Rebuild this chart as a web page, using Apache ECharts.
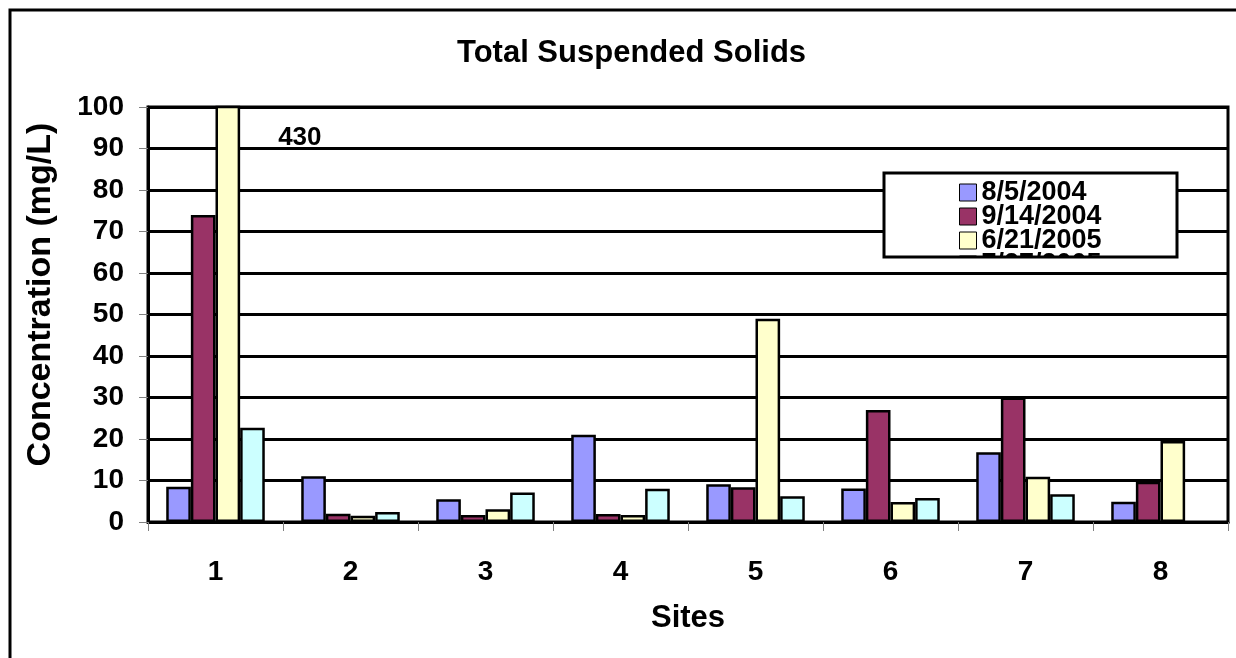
<!DOCTYPE html>
<html>
<head>
<meta charset="utf-8">
<script src="https://cdn.jsdelivr.net/npm/echarts@6/dist/echarts.min.js"></script>
<style>
  html, body { margin: 0; padding: 0; background: #fff; }
  #tss { width: 1236px; height: 658px; }
</style>
</head>
<body>
<div id="tss"></div>
<script>
// sites and sampling dates
var sites = ['1', '2', '3', '4', '5', '6', '7', '8'];
var dates = ['8/5/2004', '9/14/2004', '6/21/2005', '7/27/2005'];

// TSS concentration (mg/L) per site, one array per sampling date
var tss_aug2004 = [8.5, 11, 5.5, 21, 9.1, 8.1, 16.8, 4.9];
var tss_sep2004 = [74, 2, 1.7, 1.9, 8.4, 27, 30, 9.7];
var tss_jun2005 = [430, 1.5, 3.1, 1.7, 49, 4.8, 10.9, 19.5];
var tss_jul2005 = [22.7, 2.4, 7.1, 8, 6.2, 5.8, 6.7, null];

var yTicks = [0, 10, 20, 30, 40, 50, 60, 70, 80, 90, 100];

function draw_tss() {
    var dom = document.getElementById('tss');
    var myChart = echarts.init(dom, null, {
      renderer: 'canvas',
      useDirtyRect: false
    });

    var font = 'Arial, "Liberation Sans", sans-serif';
    var colors = ['#9999FF', '#993366', '#FFFFCC', '#CCFFFF'];
    var yMax = yTicks[yTicks.length - 1];

    // values above the axis max get their number written next to the bar
    function withOffscale(arr) {
      return arr.map(function (v) {
        if (v != null && v > yMax) {
          return {
            value: v,
            label: {
              show: true,
              position: 'insideTop',
              offset: [72, 14],
              formatter: '{c}',
              color: '#000',
              fontWeight: 'bold',
              fontSize: 26,
              fontFamily: font
            }
          };
        }
        return v;
      });
    }

    var values = [tss_aug2004, tss_sep2004, tss_jun2005, tss_jul2005];
    var series = values.map(function (arr, i) {
      return {
        name: dates[i],
        type: 'bar',
        data: withOffscale(arr),
        barGap: '0%',
        barCategoryGap: '27%',
        itemStyle: {
          color: colors[i],
          borderColor: '#000',
          borderWidth: 2.5
        }
      };
    });

    var option = {
      animation: false,
      backgroundColor: '#fff',
      title: {
        text: 'Total Suspended Solids',
        left: 452,
        top: 33,
        textStyle: {
          fontFamily: font,
          fontWeight: 'bold',
          fontSize: 31,
          color: '#000'
        }
      },
      legend: {
        type: 'scroll',
        orient: 'vertical',
        left: 959,
        top: 179,
        height: 78,
        padding: 0,
        itemGap: -3,
        itemWidth: 17,
        itemHeight: 17,
        icon: 'rect',
        itemStyle: { borderWidth: 1, borderColor: '#000' },
        textStyle: {
          fontFamily: font,
          fontWeight: 'bold',
          fontSize: 27,
          lineHeight: 24,
          color: '#000'
        },
        pageButtonGap: 0,
        pageButtonItemGap: 0,
        pageIconSize: 1,
        pageIconColor: 'rgba(0,0,0,0)',
        pageIconInactiveColor: 'rgba(0,0,0,0)',
        pageFormatter: '',
        pageTextStyle: { fontSize: 1, color: 'rgba(0,0,0,0)' },
        data: dates
      },
      graphic: [
        {
          type: 'rect',
          z: -1,
          shape: { x: 10, y: 10, width: 1300, height: 700 },
          style: { fill: 'none', stroke: '#000', lineWidth: 3 }
        },
        {
          type: 'rect',
          z: 1,
          shape: { x: 884, y: 173, width: 293, height: 84 },
          style: { fill: '#fff', stroke: 'none' }
        },
        {
          type: 'rect',
          z: 100,
          shape: { x: 884, y: 173, width: 293, height: 84 },
          style: { fill: 'none', stroke: '#000', lineWidth: 3 }
        }
      ],
      grid: {
        left: 148,
        right: 8,
        top: 107,
        bottom: 136,
        show: true,
        borderColor: '#000',
        borderWidth: 3,
        containLabel: false
      },
      xAxis: {
        type: 'category',
        data: sites,
        name: 'Sites',
        nameLocation: 'middle',
        nameGap: 81,
        nameTextStyle: {
          fontFamily: font,
          fontWeight: 'bold',
          fontSize: 31,
          color: '#000'
        },
        axisLine: { lineStyle: { color: '#000', width: 3 } },
        axisTick: { show: true, length: 9, lineStyle: { color: '#808080', width: 1 } },
        axisLabel: {
          margin: 36,
          fontFamily: font,
          fontWeight: 'bold',
          fontSize: 28,
          color: '#000'
        }
      },
      yAxis: {
        type: 'value',
        min: 0,
        max: yMax,
        interval: 10,
        name: 'Concentration (mg/L)',
        nameLocation: 'middle',
        nameGap: 90,
        nameTextStyle: {
          fontFamily: font,
          fontWeight: 'bold',
          fontSize: 34,
          color: '#000',
          padding: [0, 0, 0, 40]
        },
        axisLine: { show: true, lineStyle: { color: '#000', width: 3 } },
        axisTick: { show: true, length: 9, lineStyle: { color: '#808080', width: 1 } },
        axisLabel: {
          margin: 24,
          fontFamily: font,
          fontWeight: 'bold',
          fontSize: 28,
          color: '#000'
        }
        ,
        splitLine: { show: true, lineStyle: { color: '#000', width: 3 } }
      },
      series: series
    };

    if (option && typeof option === 'object') {
      myChart.setOption(option);
    }

    window.addEventListener('resize', myChart.resize);
}

draw_tss();
</script>
</body>
</html>
